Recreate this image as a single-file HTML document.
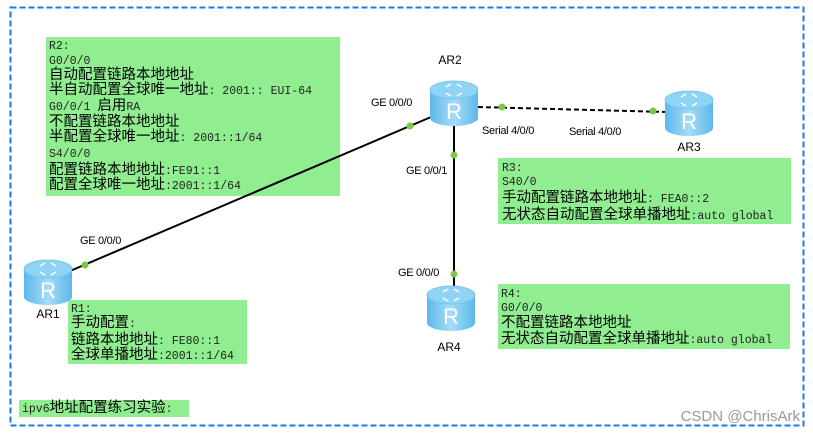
<!DOCTYPE html>
<html><head><meta charset="utf-8">
<style>
html,body{margin:0;padding:0;background:#fff;}
svg{display:block;}
.m{font-family:"Liberation Mono","Noto Sans CJK SC",monospace;font-size:11.5px;fill:#222;}
.c{font-family:"Liberation Sans","Noto Sans CJK SC",sans-serif;font-size:14.5px;fill:#000;}
.l{font-family:"Liberation Sans",sans-serif;font-size:11px;fill:#000;letter-spacing:-0.3px;}
.n{font-family:"Liberation Sans",sans-serif;font-size:12px;fill:#000;}
</style></head><body>
<svg width="813" height="434" viewBox="0 0 813 434" xmlns="http://www.w3.org/2000/svg">
<defs>
<linearGradient id="body" x1="0" x2="1" y1="0" y2="0">
<stop offset="0" stop-color="#5cb8ea"/><stop offset="0.5" stop-color="#a6dcf7"/><stop offset="1" stop-color="#5cb8ea"/>
</linearGradient>
<g id="rt">
<path d="M-24,-14 L-24,14 A24,8 0 0 0 24,14 L24,-14 Z" fill="url(#body)"/>
<ellipse cx="0" cy="-14" rx="24" ry="9" fill="#8fd3f5" stroke="#6cc3ee" stroke-width="0.8"/>
<path d="M-8,-17 l5,-3 M8,-17 l-5,-3 M-8,-11 l5,3 M8,-11 l-5,3" stroke="#fff" stroke-width="1.6"/>
<text x="0" y="15" text-anchor="middle" font-family="Liberation Sans,sans-serif" font-size="22" fill="#fff">R</text>
</g>
</defs>
<rect x="10.5" y="7.5" width="793" height="418" fill="none" stroke="#1a7ae6" stroke-width="2" stroke-dasharray="6,3"/>

<!-- boxes -->
<rect x="46" y="37" width="294" height="159" fill="#90ee90"/>
<rect x="498" y="158" width="293" height="66" fill="#90ee90"/>
<rect x="498" y="284" width="292" height="65" fill="#90ee90"/>
<rect x="68" y="300" width="179" height="64" fill="#90ee90"/>
<rect x="19" y="400" width="170" height="17" fill="#90ee90"/>

<!-- links -->
<line x1="431" y1="117" x2="70" y2="271" stroke="#000" stroke-width="2"/>
<line x1="454" y1="125" x2="454" y2="292" stroke="#000" stroke-width="2"/>
<line x1="478" y1="107" x2="667" y2="112" stroke="#000" stroke-width="2" stroke-dasharray="5,3"/>
<g fill="#7ac943">
<circle cx="410" cy="126" r="3.5"/><circle cx="85" cy="265" r="3.5"/>
<circle cx="454" cy="155" r="3.5"/><circle cx="454" cy="274" r="3.5"/>
<circle cx="502" cy="107" r="3.5"/><circle cx="653" cy="111" r="3.5"/>
</g>

<!-- routers -->
<use href="#rt" x="454" y="104"/>
<use href="#rt" x="689" y="114"/>
<use href="#rt" x="48" y="283"/>
<use href="#rt" x="451" y="309"/>

<text class="n" x="450" y="64" text-anchor="middle">AR2</text>
<text class="n" x="689" y="151" text-anchor="middle">AR3</text>
<text class="n" x="48" y="318" text-anchor="middle">AR1</text>
<text class="n" x="449" y="351" text-anchor="middle">AR4</text>

<text class="l" x="371" y="106">GE 0/0/0</text>
<text class="l" x="482" y="134">Serial 4/0/0</text>
<text class="l" x="569" y="135">Serial 4/0/0</text>
<text class="l" x="406" y="174">GE 0/0/1</text>
<text class="l" x="398" y="276">GE 0/0/0</text>
<text class="l" x="80" y="244">GE 0/0/0</text>

<!-- R2 -->
<text class="m" x="49" y="49">R2:</text>
<text class="m" x="49" y="64">G0/0/0</text>
<text class="c" x="49" y="79">自动配置链路本地地址</text>
<text class="c" x="49" y="94">半自动配置全球唯一地址<tspan class="m">: 2001:: EUI-64</tspan></text>
<text class="c" x="49" y="110"><tspan class="m">G0/0/1 </tspan>启用<tspan class="m">RA</tspan></text>
<text class="c" x="49" y="126">不配置链路本地地址</text>
<text class="c" x="49" y="141">半配置全球唯一地址<tspan class="m">: 2001::1/64</tspan></text>
<text class="m" x="49" y="157">S4/0/0</text>
<text class="c" x="49" y="174">配置链路本地地址<tspan class="m">:FE91::1</tspan></text>
<text class="c" x="49" y="189">配置全球唯一地址<tspan class="m">:2001::1/64</tspan></text>

<!-- R3 -->
<text class="m" x="502" y="171">R3:</text>
<text class="m" x="502" y="185">S40/0</text>
<text class="c" x="502" y="202">手动配置链路本地地址<tspan class="m">: FEA0::2</tspan></text>
<text class="c" x="502" y="219">无状态自动配置全球单播地址<tspan class="m">:auto global</tspan></text>

<!-- R4 -->
<text class="m" x="501" y="297">R4:</text>
<text class="m" x="501" y="311">G0/0/0</text>
<text class="c" x="501" y="327">不配置链路本地地址</text>
<text class="c" x="501" y="343">无状态自动配置全球单播地址<tspan class="m">:auto global</tspan></text>

<!-- R1 -->
<text class="m" x="71" y="312">R1:</text>
<text class="c" x="71" y="327">手动配置<tspan class="m">:</tspan></text>
<text class="c" x="71" y="344">链路本地地址<tspan class="m">: FE80::1</tspan></text>
<text class="c" x="71" y="359">全球单播地址<tspan class="m">:2001::1/64</tspan></text>

<text class="c" x="22" y="412"><tspan class="m">ipv6</tspan>地址配置练习实验<tspan class="m">:</tspan></text>

<text x="800" y="421" text-anchor="end" font-family="Liberation Sans,sans-serif" font-size="15" fill="#999">CSDN @ChrisArk</text>
</svg>
</body></html>
